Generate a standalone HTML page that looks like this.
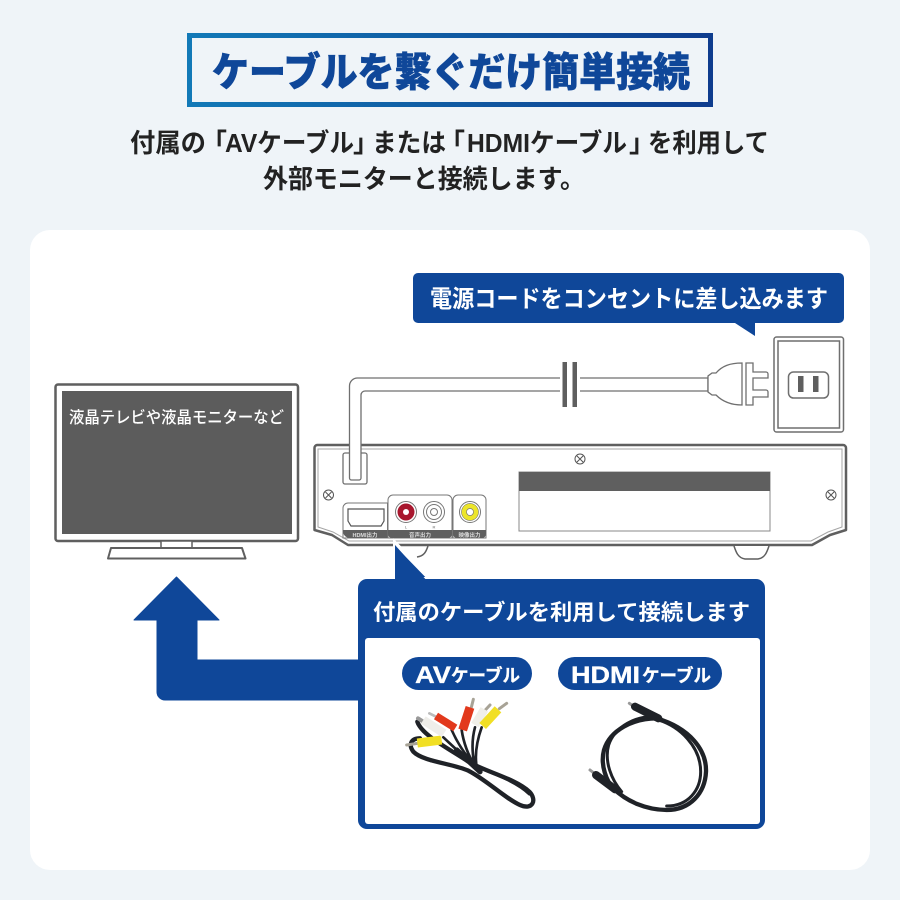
<!DOCTYPE html>
<html><head><meta charset="utf-8"><style>
html,body{margin:0;padding:0;background:#eff4f8;width:900px;height:900px;overflow:hidden}
svg{display:block}
text{font-family:"Liberation Sans","Noto Sans CJK JP",sans-serif;font-weight:700}
</style></head><body>
<svg width="900" height="900" viewBox="0 0 900 900" xmlns="http://www.w3.org/2000/svg">
<defs><linearGradient id="g" x1="0" x2="1" y1="0" y2="0"><stop offset="0" stop-color="#1279b7"/><stop offset="1" stop-color="#0e3c8e"/></linearGradient></defs>
<rect width="900" height="900" fill="#eff4f8"/>
<rect x="30" y="230" width="840" height="640" rx="20" fill="#fff"/>

<!-- Title -->
<rect x="189.500" y="35.500" width="521" height="69" fill="none" stroke="url(#g)" stroke-width="5"/>
<text x="212" y="86" font-size="40" fill="#0f4799" stroke="#0f4799" stroke-width=".6" style="font-weight:900" textLength="478" lengthAdjust="spacingAndGlyphs">ケーブルを繋ぐだけ簡単接続</text>

<!-- Subtitle -->
<g font-size="26" fill="#222">
<text x="130" y="152" textLength="76" lengthAdjust="spacingAndGlyphs">付属の</text>
<text x="201" y="152">「</text>
<text x="225" y="152" textLength="129" lengthAdjust="spacingAndGlyphs">AVケーブル</text>
<text x="353" y="152">」</text>
<text x="372" y="152" textLength="74" lengthAdjust="spacingAndGlyphs">または</text>
<text x="439" y="152">「</text>
<text x="467" y="152" textLength="160" lengthAdjust="spacingAndGlyphs">HDMIケーブル</text>
<text x="629" y="152">」</text>
<text x="648" y="152" textLength="121" lengthAdjust="spacingAndGlyphs">を利用して</text>
<text x="263" y="188" textLength="322" lengthAdjust="spacingAndGlyphs">外部モニターと接続します。</text>
</g>

<!-- Top callout -->
<path d="M418 273H839a5 5 0 0 1 5 5V318a5 5 0 0 1-5 5H755V336L735 323H418a5 5 0 0 1-5-5V278a5 5 0 0 1 5-5Z" fill="#0f4799"/>
<text x="430" y="307" font-size="24" fill="#fff" textLength="398" lengthAdjust="spacingAndGlyphs">電源コードをコンセントに差し込みます</text>

<!-- Outlet -->
<g fill="#fff" stroke="#6f6f6f">
<rect x="774" y="337" width="69.500" height="95" rx="2.500" stroke-width="1.500"/>
<rect x="778" y="341" width="61.500" height="87" fill="none" stroke-width="1.500"/>
<rect x="788.500" y="372" width="40" height="26" rx="5" stroke-width="1.500"/>
</g>
<rect x="798" y="376" width="5.500" height="16" fill="#5f5f5f"/>
<rect x="813" y="376" width="5.500" height="16" fill="#5f5f5f"/>

<!-- Device -->
<path d="M317 445H843a3 3 0 0 1 3 3V530L830 535 812 545H348L332 535 314.500 530V448a3 3 0 0 1 2.500-3Z" fill="#fff" stroke="#5f5f5f" stroke-width="2.500" stroke-linejoin="round"/>
<path d="M318 449H842V527L828 532 811 541H349L333 532 318 527Z" fill="none" stroke="#a5a5a5" stroke-width="1"/>
<path d="M734 546C736 552 738 558 745 559H758C765 558 767 552 769 546" fill="#fff" stroke="#5f5f5f" stroke-width="1.500"/>
<path d="M428 546C426 552 424 556 417 557" fill="none" stroke="#5f5f5f" stroke-width="1.500"/>

<!-- Screws -->
<g fill="#fff" stroke="#555" stroke-width="1">
<circle cx="580" cy="459" r="5"/><path d="M577 456l6 6M583 456l-6 6"/>
<circle cx="328.500" cy="495" r="5"/><path d="M325.500 492l6 6M331.500 492l-6 6"/>
<circle cx="831" cy="495" r="5"/><path d="M828 492l6 6M834 492l-6 6"/>
</g>

<!-- Label panel -->
<rect x="519" y="472" width="251" height="59" fill="#fff" stroke="#888" stroke-width="1"/>
<rect x="519" y="472" width="251" height="19" fill="#5f5f5f"/>

<!-- Cord -->
<rect x="343" y="453" width="24" height="31" rx="2" fill="#fff" stroke="#6f6f6f" stroke-width="1.300"/>
<path d="M349.500 478V386a8 8 0 0 1 8-8H708V391H365a4 4 0 0 0-4 4V478a2 2 0 0 1-2 2H351.500a2 2 0 0 1-2-2Z" fill="#fff" stroke="#6f6f6f" stroke-width="1.300"/>
<rect x="560" y="360" width="20" height="50" fill="#fff"/>
<rect x="562.500" y="362" width="4.500" height="45" fill="#5f5f5f"/>
<rect x="572.500" y="362" width="4.500" height="45" fill="#5f5f5f"/>
<!-- Plug -->
<path d="M708 384V376L712 373H716C722 366 730 363 742 363V405C730 405 722 401 716 395H712L708 392Z" fill="#fff" stroke="#6f6f6f" stroke-width="1.300"/>
<path d="M746 363H753V372H766a2 2 0 0 1 2 2V378H753V390H766a2 2 0 0 1 2 2V397H753V405H746Z" fill="#fff" stroke="#6f6f6f" stroke-width="1.300"/>

<!-- Ports -->
<g stroke="#777" stroke-width="1" fill="#fff">
<path d="M343 538V508a5 5 0 0 1 5-5H387.500V538Z"/>
<path d="M388 538V500a5 5 0 0 1 5-5H447a5 5 0 0 1 5 5V538Z"/>
<path d="M453 538V500a5 5 0 0 1 5-5H481a5 5 0 0 1 5 5V538Z"/>
</g>
<path d="M348 509H384V521L381 526H351L348 521Z" fill="#fff" stroke="#555" stroke-width="1.200"/>
<path d="M343 530H387.500V538H350a7 7 0 0 1-7-8ZM388 530H452V534a4 4 0 0 1-4 4H392a4 4 0 0 1-4-4ZM453 530H486V534a4 4 0 0 1-4 4H457a4 4 0 0 1-4-4Z" fill="#5f5f5f"/>
<text x="365" y="537" font-size="5.500" fill="#ddd" text-anchor="middle">HDMI出力</text>
<text x="420" y="537" font-size="5.500" fill="#ddd" text-anchor="middle">音声出力</text>
<text x="469.500" y="537" font-size="5.500" fill="#ddd" text-anchor="middle">映像出力</text>
<text x="406" y="528.500" font-size="4" fill="#999" text-anchor="middle">L</text>
<text x="434" y="528.500" font-size="4" fill="#999" text-anchor="middle">R</text>
<circle cx="406" cy="512" r="10.500" fill="#fff" stroke="#777"/><circle cx="406" cy="512" r="8.500" fill="#a8172e"/><circle cx="406" cy="512" r="3" fill="#fff"/>
<circle cx="434" cy="512" r="10.500" fill="#fff" stroke="#777"/><circle cx="434" cy="512" r="7.500" fill="#fff" stroke="#777"/><circle cx="434" cy="512" r="3.500" fill="#fff" stroke="#777"/>
<circle cx="470" cy="512" r="10.500" fill="#fff" stroke="#777"/><circle cx="470" cy="512" r="8.500" fill="#ece52a" stroke="#555" stroke-width=".5"/><circle cx="470" cy="512" r="3.500" fill="#fff" stroke="#777" stroke-width=".7"/>

<!-- TV -->
<rect x="55.500" y="384.500" width="242.500" height="156.500" rx="2.500" fill="#fff" stroke="#5f5f5f" stroke-width="2.500"/>
<rect x="62" y="391" width="230" height="143" fill="#5c5c5c"/>
<rect x="161" y="541" width="31" height="8" fill="#fff" stroke="#5f5f5f" stroke-width="1.500"/>
<path d="M111 548H242L245.500 558.500H108Z" fill="#fff" stroke="#5f5f5f" stroke-width="2" stroke-linejoin="round"/>
<text x="69" y="423" font-size="16.500" fill="#fff" font-weight="500" style="font-weight:500" textLength="215" lengthAdjust="spacingAndGlyphs">液晶テレビや液晶モニターなど</text>

<!-- Arrow -->
<path d="M176.500 577L219 620H197V660H370V700H165a8 8 0 0 1-8-8V620H134Z" fill="#0f4799" stroke="#0f4799" stroke-linejoin="round"/>

<!-- Cable panel -->
<path d="M395 543L430 579H395Z" fill="#0f4799" stroke="#fff" stroke-width="4"/>
<path d="M395 545L428 582H395Z" fill="#0f4799"/>
<rect x="358" y="579" width="407" height="250" rx="9" fill="#0f4799"/>
<rect x="365" y="638" width="395" height="186" rx="3" fill="#fff"/>
<text x="373" y="620" font-size="22" fill="#fff" textLength="377" lengthAdjust="spacingAndGlyphs">付属のケーブルを利用して接続します</text>

<rect x="402" y="657" width="130" height="33" rx="16.500" fill="#0f4799"/>
<text x="415" y="683" font-size="24" fill="#fff" stroke="#fff" stroke-width=".3" textLength="36" lengthAdjust="spacingAndGlyphs">AV</text>
<text x="451" y="682" font-size="18" fill="#fff" stroke="#fff" stroke-width=".3" textLength="69" lengthAdjust="spacingAndGlyphs">ケーブル</text>
<rect x="558" y="657" width="164" height="33" rx="16.500" fill="#0f4799"/>
<text x="571" y="683" font-size="24" fill="#fff" stroke="#fff" stroke-width=".3" textLength="69" lengthAdjust="spacingAndGlyphs">HDMI</text>
<text x="642" y="682" font-size="18" fill="#fff" stroke="#fff" stroke-width=".3" textLength="69" lengthAdjust="spacingAndGlyphs">ケーブル</text>

<!-- AV cable -->
<g transform="translate(380 650) scale(.33333)" fill="none" stroke-linecap="round" stroke-linejoin="round">
<path d="M112 215C125 255 205 295 265 335C315 365 405 385 448 425C472 450 458 482 420 465C375 445 320 390 265 362C215 340 130 335 100 305C85 285 92 265 120 265" stroke="#1f2227" stroke-width="13"/>
<path d="M290 350C340 370 410 395 448 432" stroke="#1f2227" stroke-width="9"/>
<path d="M190 262C220 290 250 320 290 350M215 240C235 285 260 320 285 345M245 240C250 275 265 320 285 345M285 232C272 280 278 320 285 350M305 232C288 280 285 320 290 350" stroke="#1f2227" stroke-width="8"/>
<path d="M230 300L300 365" stroke="#1f2227" stroke-width="16"/>
<path d="M80 285L112 280" stroke="#a8a396" stroke-width="9"/>
<path d="M112 279L185 270" stroke="#f1df24" stroke-width="27" stroke-linecap="butt"/>
<path d="M114 205L130 215" stroke="#999" stroke-width="12"/>
<path d="M130 210L192 250" stroke="#efeeea" stroke-width="26" stroke-linecap="butt"/>
<path d="M148 190L168 200" stroke="#bbb" stroke-width="8"/>
<path d="M168 198L226 234" stroke="#e2391c" stroke-width="23" stroke-linecap="butt"/>
<path d="M280 148L274 172" stroke="#a8a396" stroke-width="9"/>
<path d="M270 172L248 240" stroke="#e2391c" stroke-width="27" stroke-linecap="butt"/>
<path d="M330 165L316 180" stroke="#a8a396" stroke-width="9"/>
<path d="M313 178L285 225" stroke="#f0efe8" stroke-width="26" stroke-linecap="butt"/>
<path d="M380 160L358 176" stroke="#a8a396" stroke-width="9"/>
<path d="M354 178L308 228" stroke="#f1df24" stroke-width="27" stroke-linecap="butt"/>
</g>

<!-- HDMI cable -->
<g transform="translate(380 650) scale(.33333)" fill="none" stroke-linecap="round" stroke-linejoin="round">
<path d="M830 205C760 205 690 240 672 300C660 345 680 395 700 415C740 455 800 480 860 480C930 480 975 430 978 365C980 300 930 235 830 205" stroke="#1f2227" stroke-width="13"/>
<path d="M825 200C770 197 705 228 686 285C672 335 695 390 725 425M835 210C900 230 962 290 962 365C962 420 925 468 860 468" stroke="#1f2227" stroke-width="9"/>
<path d="M748 160L765 172" stroke="#999" stroke-width="9"/>
<path d="M765 170L835 205" stroke="#1f2227" stroke-width="24"/>
<path d="M630 360L648 374" stroke="#999" stroke-width="9"/>
<path d="M648 375L705 418" stroke="#1f2227" stroke-width="24"/>
</g>
</svg>
</body></html>
